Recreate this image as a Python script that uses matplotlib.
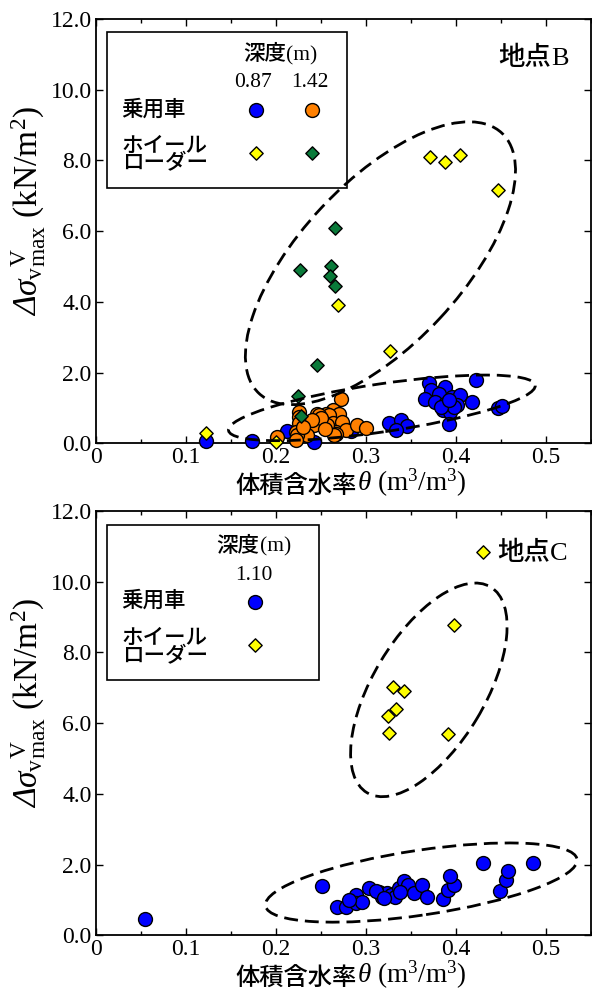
import matplotlib
matplotlib.use('Agg')
import matplotlib.pyplot as plt
from matplotlib.patches import Ellipse, Rectangle
from matplotlib.transforms import ScaledTranslation
from matplotlib.ticker import MultipleLocator, FuncFormatter

plt.rcParams['font.family'] = ['Liberation Serif', 'Noto Sans CJK JP']
plt.rcParams['mathtext.fontset'] = 'custom'
plt.rcParams['mathtext.rm'] = 'Liberation Serif'
plt.rcParams['mathtext.it'] = 'Liberation Serif:italic'
plt.rcParams['mathtext.bf'] = 'Liberation Serif:bold'

# --- site B ---
b_car087_x = [0.1226, 0.174, 0.2425, 0.212, 0.283, 0.326, 0.339, 0.346, 0.333, 0.370,
              0.372, 0.388, 0.366, 0.381, 0.396, 0.405, 0.418, 0.377, 0.388, 0.401,
              0.386, 0.394, 0.392, 0.422, 0.447, 0.451, 0.398, 0.383, 0.392]
b_car087_y = [0.07, 0.05, 0.04, 0.35, 0.35, 0.57, 0.65, 0.50, 0.37, 1.70,
              1.50, 1.59, 1.26, 1.40, 1.31, 1.36, 1.17, 1.17, 1.12, 1.07,
              0.93, 0.89, 0.53, 1.80, 1.01, 1.06, 1.03, 1.03, 1.22]
b_car142_x = [0.272, 0.263, 0.256, 0.270, 0.226, 0.246, 0.259, 0.248, 0.226, 0.2425,
              0.226, 0.222, 0.2016, 0.235, 0.224, 0.263, 0.274, 0.2665, 0.2775, 0.2665,
              0.290, 0.300, 0.257, 0.250, 0.222, 0.265, 0.240, 0.255, 0.230]
b_car142_y = [1.26, 0.93, 0.84, 0.84, 0.89, 0.84, 0.79, 0.79, 0.74, 0.51,
              0.56, 0.32, 0.18, 0.23, 0.23, 0.56, 0.60, 0.32, 0.37, 0.27,
              0.51, 0.42, 0.51, 0.70, 0.08, 0.23, 0.65, 0.40, 0.45]
b_wl087_x = [0.122, 0.200, 0.2695, 0.3267, 0.3717, 0.3876, 0.405, 0.4474]
b_wl087_y = [0.29, 0.03, 3.92, 2.61, 8.10, 7.94, 8.15, 7.16]
b_wl142_x = [0.2654, 0.2267, 0.2617, 0.2599, 0.2661, 0.2458, 0.2244, 0.2274]
b_wl142_y = [6.10, 4.91, 5.02, 4.72, 4.45, 2.20, 1.34, 0.76]

# --- site C ---
c_car110_x = [0.0543, 0.251, 0.2684, 0.2776, 0.289, 0.2887, 0.296, 0.303, 0.3145, 0.318,
              0.3237, 0.3274, 0.332, 0.3367, 0.342, 0.347, 0.3533, 0.3625, 0.3684, 0.3857,
              0.3913, 0.3976, 0.394, 0.430, 0.4493, 0.456, 0.4577, 0.4854, 0.311, 0.320,
              0.338, 0.281]
c_car110_y = [0.45, 1.40, 0.81, 0.81, 1.15, 0.91, 0.95, 1.34, 1.23, 1.09,
              1.19, 1.14, 1.09, 1.33, 1.53, 1.42, 1.19, 1.42, 1.08, 1.03,
              1.28, 1.43, 1.68, 2.04, 1.26, 1.56, 1.81, 2.05, 1.25, 1.05,
              1.23, 1.00]
c_wl110_x = [0.3976, 0.330, 0.3425, 0.333, 0.3245, 0.3256, 0.3913, 0.430]
c_wl110_y = [8.78, 7.03, 6.92, 6.39, 6.20, 5.71, 5.69, 10.85]

BLUE = '#0000ff'
ORANGE = '#ff8000'
YELLOW = '#ffff00'
GREEN = '#0a7a3a'
FS = 17
LFS = 15.5
JW = 'medium'   # weight of the japanese gothic text

fig = plt.figure(figsize=(5.92, 9.96), dpi=100)
ax1 = fig.add_axes([0.162, 0.555, 0.836, 0.426])
ax2 = fig.add_axes([0.162, 0.061, 0.836, 0.426])


def circ(ax, x, y, c, **kw):
    ax.scatter(x, y, s=100, marker='o', c=c, edgecolors='black', linewidths=1,
               clip_on=False, zorder=3, **kw)


def diam(ax, x, y, c, **kw):
    ax.scatter(x, y, s=46, marker='D', c=c, edgecolors='black', linewidths=1,
               clip_on=False, zorder=4, **kw)


def dashed_ellipse(ax, cx, cy, a, b, ang):
    tr = fig.dpi_scale_trans + ScaledTranslation(cx, cy, ax.transData)
    ax.add_patch(Ellipse((0, 0), 2 * a, 2 * b, angle=ang, transform=tr, fill=False,
                         ec='black', lw=2, ls=(0, (5, 2.5)), zorder=6))


def mixed(ax, x, y, jp, latin, jsize, lsize, va='center'):
    # japanese part ends at x, latin part follows on the same baseline
    t = ax.text(x, y, jp, transform=ax.transAxes, fontsize=jsize, fontweight=JW,
                ha='right', va=va)
    ax.annotate(latin, xy=(1, 0), xycoords=t, fontsize=lsize, ha='left', va='bottom')
    return t


def setup(ax):
    ax.set_xlim(0, 0.55)
    ax.set_ylim(0, 12)
    ax.xaxis.set_major_locator(MultipleLocator(0.1))
    ax.xaxis.set_minor_locator(MultipleLocator(0.05))
    ax.yaxis.set_major_locator(MultipleLocator(2))
    ax.xaxis.set_major_formatter(FuncFormatter(lambda v, p: '0' if abs(v) < 1e-9 else '%.1f' % v))
    ax.yaxis.set_major_formatter(FuncFormatter(lambda v, p: '%.1f' % v))
    ax.tick_params(which='both', direction='in', top=True, right=True, labelsize=FS, width=1)
    ax.tick_params(which='major', length=5, pad=3)
    ax.tick_params(which='minor', length=3)
    for s in ax.spines.values():
        s.set_linewidth(1.3)
    # y label: italic Delta, then the math part on the same baseline
    d = ax.text(-0.118, 0.30, 'Δ', transform=ax.transAxes, fontsize=24, style='italic',
                rotation=90, rotation_mode='anchor', ha='left', va='baseline')
    ax.annotate(r'$\sigma_{\rm v}{}^{\rm V}_{\rm max}$ (kN/m$^2$)', xy=(-0.118, 1),
                xycoords=('axes fraction', d), fontsize=24, rotation=90,
                rotation_mode='anchor', ha='left', va='baseline')
    mixed(ax, 0.527, -0.077, '体積含水率', r'$\theta$ (m$^3$/m$^3$)', 17.5, 19.5, va='top')


setup(ax1)
setup(ax2)

# site B
circ(ax1, b_car087_x, b_car087_y, BLUE)
circ(ax1, b_car142_x, b_car142_y, ORANGE)
diam(ax1, b_wl087_x, b_wl087_y, YELLOW)
diam(ax1, b_wl142_x, b_wl142_y, GREEN)
dashed_ellipse(ax1, 0.3162, 5.09, 1.78, 0.81, 47)
dashed_ellipse(ax1, 0.3178, 1.00, 1.55, 0.24, 8.4)

# site C
circ(ax2, c_car110_x, c_car110_y, BLUE)
diam(ax2, c_wl110_x, c_wl110_y, YELLOW)
dashed_ellipse(ax2, 0.370, 6.94, 1.20, 0.56, 59)
dashed_ellipse(ax2, 0.3616, 1.49, 1.575, 0.324, 8.5)

# legend B
T = ax1.transAxes
ax1.add_patch(Rectangle((0.022, 0.601), 0.485, 0.368, transform=T, fill=False,
                        ec='black', lw=1.2, zorder=7))
mixed(ax1, 0.385, 0.915, '深度', '(m)', LFS, LFS)
ax1.text(0.318, 0.851, '0.87', transform=T, fontsize=LFS, ha='center', va='center')
ax1.text(0.432, 0.851, '1.42', transform=T, fontsize=LFS, ha='center', va='center')
ax1.text(0.052, 0.785, '乗用車', transform=T, fontsize=LFS, fontweight=JW,
         ha='left', va='center')
ax1.text(0.052, 0.677, 'ホイール\nローダー', transform=T, fontsize=LFS, fontweight=JW,
         ha='left', va='center', linespacing=0.85)
circ(ax1, [0.323], [0.785], BLUE, transform=T)
circ(ax1, [0.436], [0.785], ORANGE, transform=T)
diam(ax1, [0.323], [0.683], YELLOW, transform=T)
diam(ax1, [0.436], [0.683], GREEN, transform=T)
mixed(ax1, 0.92, 0.908, '地点', 'B', 19, 19)

# legend C
T = ax2.transAxes
ax2.add_patch(Rectangle((0.022, 0.602), 0.4285, 0.365, transform=T, fill=False,
                        ec='black', lw=1.2, zorder=7))
mixed(ax2, 0.331, 0.916, '深度', '(m)', LFS, LFS)
ax2.text(0.32, 0.849, '1.10', transform=T, fontsize=LFS, ha='center', va='center')
ax2.text(0.052, 0.786, '乗用車', transform=T, fontsize=LFS, fontweight=JW,
         ha='left', va='center')
ax2.text(0.052, 0.675, 'ホイール\nローダー', transform=T, fontsize=LFS, fontweight=JW,
         ha='left', va='center', linespacing=0.85)
circ(ax2, [0.321], [0.786], BLUE, transform=T)
diam(ax2, [0.321], [0.684], YELLOW, transform=T)
mixed(ax2, 0.917, 0.901, '地点', 'C', 19, 19)

fig.savefig('out.png', dpi=100)
